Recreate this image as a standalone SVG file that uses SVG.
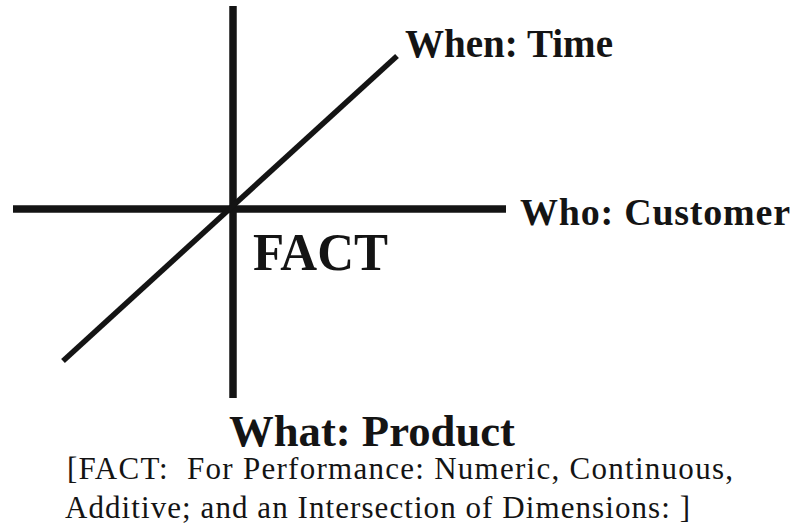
<svg xmlns="http://www.w3.org/2000/svg" width="795" height="527" viewBox="0 0 795 527">
<style>
.ax{stroke:#141414;fill:none;stroke-linecap:butt}
.b{font-family:"Liberation Serif","Times New Roman",serif;font-weight:bold;fill:#141414}
.r{font-family:"Liberation Serif","Times New Roman",serif;fill:#141414}
</style>
<rect width="795" height="527" fill="#ffffff"/>
<g id="connectors">
<line class="ax" x1="233" y1="6" x2="233" y2="398" stroke-width="7.5"/>
<line class="ax" x1="13" y1="209" x2="506" y2="209" stroke-width="7.5"/>
<line class="ax" x1="63" y1="361" x2="397" y2="56" stroke-width="5.5"/>
</g>
<g id="when"><text class="b" x="405" y="57" font-size="40" textLength="208" lengthAdjust="spacingAndGlyphs">When: Time</text></g>
<g id="who"><text class="b" x="520" y="225" font-size="38" textLength="270" lengthAdjust="spacing">Who: Customer</text></g>
<g id="fact"><text class="b" x="253" y="270" font-size="52" textLength="135" lengthAdjust="spacingAndGlyphs">FACT</text></g>
<g id="what"><text class="b" x="229" y="446" font-size="45" textLength="286" lengthAdjust="spacingAndGlyphs">What: Product</text></g>
<g id="note">
<text class="r" x="67" y="479" font-size="31" textLength="666" lengthAdjust="spacing" xml:space="preserve">[FACT:  For Performance: Numeric, Continuous,</text>
<text class="r" x="65" y="518" font-size="31" textLength="625" lengthAdjust="spacing">Additive; and an Intersection of Dimensions: ]</text>
</g>
</svg>
